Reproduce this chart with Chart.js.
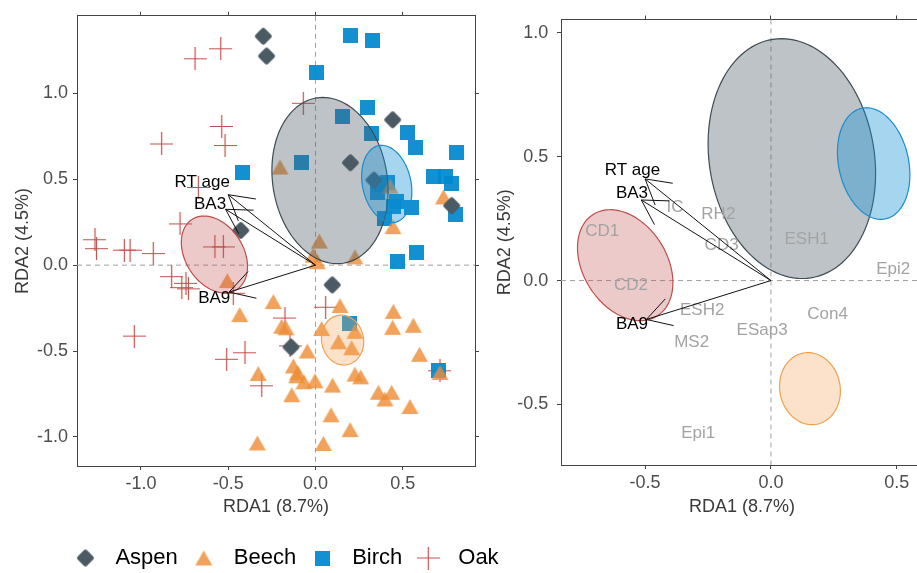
<!DOCTYPE html>
<html><head><meta charset="utf-8">
<script src="https://cdn.jsdelivr.net/npm/chart.js@4"></script>
<style>
html,body{margin:0;padding:0;overflow:hidden;background:#fff;width:917px;height:573px;}
#wrap{position:relative;width:917px;height:573px;overflow:hidden;background:#fff;}
canvas{position:absolute;top:0;}
#left{left:0;width:565px;height:579px;}
#right{left:482px;width:456px;height:579px;}
</style></head><body>
<div id="wrap"><canvas id="right" width="456" height="579"></canvas><canvas id="left" width="565" height="579"></canvas></div>
<script>
// ---------- data ----------
const groups = ['Aspen','Beech','Birch','Oak'];

const aspenX = [-0.299,-0.28,0.442,0.2,0.335,0.78,-0.428,0.096,-0.14];
const aspenY = [1.332,1.217,0.846,0.596,0.495,0.346,0.202,-0.115,-0.477];

const beechX = [-0.203,0.733,0.444,0.427,0.022,-0.013,0.226,0.01,-0.505,-0.242,-0.434,0.14,0.446,-0.194,-0.169,0.035,0.226,0.442,0.56,0.131,0.207,-0.047,0.595,-0.127,-0.102,-0.328,0.226,0.259,-0.108,-0.066,-0.003,0.098,0.36,0.436,0.398,-0.136,0.541,0.089,0.198,-0.333,0.045,0.713];
const beechY = [0.571,0.397,0.224,0.46,0.14,0.058,0.048,0.02,-0.09,-0.212,-0.288,-0.235,-0.269,-0.356,-0.365,-0.369,-0.385,-0.362,-0.35,-0.446,-0.481,-0.5,-0.519,-0.587,-0.625,-0.631,-0.634,-0.65,-0.644,-0.679,-0.673,-0.698,-0.74,-0.74,-0.779,-0.754,-0.823,-0.871,-0.957,-1.035,-1.038,-0.625];

const birchX = [0.198,0.325,0.003,0.298,0.154,0.322,0.527,0.57,0.807,-0.083,-0.419,0.673,0.742,0.777,0.41,0.367,0.355,0.465,0.448,0.552,0.799,0.398,0.576,0.472,0.194,0.703];
const birchY = [1.336,1.307,1.119,0.915,0.867,0.764,0.769,0.685,0.658,0.596,0.538,0.514,0.514,0.473,0.48,0.472,0.421,0.369,0.344,0.336,0.292,0.269,0.075,0.022,-0.342,-0.611];

const oakX = [-0.543,-0.69,-0.07,-0.537,-0.881,-0.518,-0.671,-0.776,-1.263,-1.254,-1.095,-1.062,-0.929,-0.576,-0.528,-0.824,-0.742,-0.766,-0.728,-0.471,0.058,-0.175,-1.038,-0.404,-0.509,-0.146,-0.308,0.713];
const oakY = [1.259,1.201,0.942,0.807,0.705,0.696,0.452,0.24,0.148,0.096,0.087,0.087,0.067,0.106,0.106,-0.067,-0.106,-0.131,-0.138,-0.164,-0.245,-0.308,-0.413,-0.51,-0.548,-0.47,-0.702,-0.615];

// ellipses (Aspen, Beech, Birch, Oak): centre, semi-axes, major-axis angle (deg)
const ellCX = [0.083,0.155,0.408,-0.579];
const ellCY = [0.492,-0.436,0.472,0.062];
const ellA = [0.487,0.146,0.228,0.241];
const ellB = [0.328,0.120,0.139,0.167];
const ellAngle = [98.9,100,101.8,121];

// environmental arrows
const envNames = ['RT age','BA3','BA9'];
const envTipX = [-0.50,-0.515,-0.495];
const envTipY = [0.41,0.325,-0.157];
const envLabelXLeft = [-0.649,-0.604,-0.58];
const envLabelYLeft = [0.48,0.352,-0.193];
const envLabelXRight = [-0.55,-0.552,-0.552];
const envLabelYRight = [0.444,0.352,-0.175];

// trait labels (right panel)
const traitNames = ['IC','RH2','CD1','CD3','ESH1','Epi2','CD2','ESH2','Con4','ESap3','MS2','Epi1'];
const traitX = [-0.381,-0.209,-0.67,-0.196,0.142,0.486,-0.556,-0.273,0.225,-0.035,-0.315,-0.289];
const traitY = [0.296,0.269,0.199,0.141,0.167,0.044,-0.02,-0.122,-0.138,-0.199,-0.248,-0.618];

// ticks
const ticksLeftX = [-1.0,-0.5,0.0,0.5];
const ticksLeftY = [-1.0,-0.5,0.0,0.5,1.0];
const ticksRightX = [-0.5,0.0,0.5];
const ticksRightY = [-0.5,0.0,0.5,1.0];

const xTitle = 'RDA1 (8.7%)';
const yTitle = 'RDA2 (4.5%)';

// ---------- styles ----------
const FONT = "'Liberation Sans', Arial, sans-serif";
Chart.defaults.font.family = FONT;
const ellFill = ['rgba(75,91,100,0.37)','rgba(245,158,80,0.30)','rgba(20,145,215,0.38)','rgba(192,80,77,0.30)'];
const ellStroke = ['#3e4c54','#f0a050','#1a8ccf','#bd4e4b'];

function marker(kind){
  const c = document.createElement('canvas');
  const g = c.getContext('2d');
  if(kind==='diamond'){
    c.width=19;c.height=19;
    g.fillStyle='#4b5a63';g.strokeStyle='#4b5a63';g.lineWidth=4.5;g.lineJoin='round';
    g.beginPath();g.moveTo(9.5,3.3);g.lineTo(15.7,9.5);g.lineTo(9.5,15.7);g.lineTo(3.3,9.5);g.closePath();
    g.fill();g.stroke();
  } else if(kind==='triangle'){
    c.width=19;c.height=17;
    g.fillStyle='rgba(238,142,56,0.82)';
    g.beginPath();g.moveTo(9.5,1);g.lineTo(18,16);g.lineTo(1,16);g.closePath();g.fill();
  } else if(kind==='square'){
    c.width=15;c.height=15;
    g.fillStyle='rgba(0,136,206,0.93)';g.fillRect(0,0,15,15);
  } else {
    c.width=23;c.height=23;
    g.strokeStyle='#c0504d';g.lineWidth=1.2;
    g.beginPath();g.moveTo(0,11.5);g.lineTo(23,11.5);g.moveTo(11.5,0);g.lineTo(11.5,23);g.stroke();
  }
  return c;
}
const markers = [marker('diamond'),marker('triangle'),marker('square'),marker('cross')];

function pts(xs,ys){return xs.map((v,i)=>({x:v,y:ys[i]}));}

// ---------- overlay plugin ----------
const overlay = {
  id:'overlay',
  beforeDatasetsDraw(chart){
    const {ctx, chartArea:a, scales:{x,y}} = chart;
    ctx.save();
    ctx.strokeStyle='#a0a0a0';ctx.lineWidth=1;ctx.setLineDash([5,4]);
    const x0=x.getPixelForValue(0), y0=y.getPixelForValue(0);
    ctx.beginPath();ctx.moveTo(x0,a.top);ctx.lineTo(x0,a.bottom);
    ctx.moveTo(a.left,y0);ctx.lineTo(a.right,y0);ctx.stroke();
    ctx.restore();
  },
  afterDatasetsDraw(chart,args,opts){
    const {ctx, chartArea:a, scales:{x,y}} = chart;
    ctx.save();
    ctx.beginPath();ctx.rect(a.left,a.top,a.right-a.left,a.bottom-a.top);ctx.clip();
    // ellipses
    for(let k=0;k<ellCX.length;k++){
      const phi=ellAngle[k]*Math.PI/180;
      ctx.beginPath();
      for(let i=0;i<=120;i++){
        const t=i/120*2*Math.PI;
        const dx=ellA[k]*Math.cos(t)*Math.cos(phi)-ellB[k]*Math.sin(t)*Math.sin(phi);
        const dy=ellA[k]*Math.cos(t)*Math.sin(phi)+ellB[k]*Math.sin(t)*Math.cos(phi);
        const px=x.getPixelForValue(ellCX[k]+dx), py=y.getPixelForValue(ellCY[k]+dy);
        if(i===0)ctx.moveTo(px,py);else ctx.lineTo(px,py);
      }
      ctx.closePath();
      ctx.fillStyle=ellFill[k];ctx.fill();
      ctx.strokeStyle=ellStroke[k];ctx.lineWidth=1.2;ctx.stroke();
    }
    // trait labels
    ctx.font='17px '+FONT;ctx.textAlign='center';ctx.textBaseline='middle';
    ctx.fillStyle='#a3a3a3';
    (opts.traits||[]).forEach((n,i)=>{
      ctx.fillText(n,x.getPixelForValue(traitX[i]),y.getPixelForValue(traitY[i]));
    });
    // arrows
    const ox=x.getPixelForValue(0), oy=y.getPixelForValue(0);
    ctx.strokeStyle='#111';ctx.lineWidth=1;
    for(let k=0;k<envTipX.length;k++){
      const tx=x.getPixelForValue(envTipX[k]), ty=y.getPixelForValue(envTipY[k]);
      const ang=Math.atan2(oy-ty,ox-tx), L=28, h=Math.PI/6;
      ctx.beginPath();ctx.moveTo(ox,oy);ctx.lineTo(tx,ty);
      ctx.moveTo(tx+L*Math.cos(ang+h),ty+L*Math.sin(ang+h));ctx.lineTo(tx,ty);
      ctx.lineTo(tx+L*Math.cos(ang-h),ty+L*Math.sin(ang-h));
      ctx.stroke();
    }
    // env labels
    ctx.fillStyle='#000';
    envNames.forEach((n,i)=>{
      ctx.fillText(n,x.getPixelForValue(opts.labX[i]),y.getPixelForValue(opts.labY[i]));
    });
    ctx.restore();
  }
};

function axes(cfg){
  const tickFont={size:18};
  const border={display:true,color:'#444',width:1};
  const grid={display:true,drawOnChartArea:false,drawTicks:true,tickLength:4,tickColor:'#444',color:'#444'};
  const setTicks=arr=>(s=>{s.ticks=arr.map(v=>({value:v}));});
  return {
    x:{type:'linear',position:'bottom',min:cfg.xmin,max:cfg.xmax,bounds:'data',
       afterBuildTicks:setTicks(cfg.xt),afterFit:s=>{s.height=cfg.xh;},
       ticks:{font:tickFont,color:'#4d4d4d',padding:3,callback:v=>v.toFixed(1),maxRotation:0,autoSkip:false},
       grid,border,
       title:{display:true,text:xTitle,color:'#3a3a3a',font:{size:18},padding:{top:0,bottom:cfg.xtp}}},
    x2:{type:'linear',position:'top',min:cfg.xmin,max:cfg.xmax,bounds:'data',
       afterBuildTicks:setTicks(cfg.xt),afterFit:s=>{s.height=cfg.top;},
       ticks:{display:false},grid,border},
    y:{type:'linear',position:'left',min:cfg.ymin,max:cfg.ymax,bounds:'data',
       afterBuildTicks:setTicks(cfg.yt),afterFit:s=>{s.width=cfg.yw;},
       ticks:{font:tickFont,color:'#4d4d4d',padding:cfg.ypad,callback:v=>v.toFixed(1),autoSkip:false},
       grid,border,
       title:{display:true,text:yTitle,color:'#3a3a3a',font:{size:18},padding:{top:12.2,bottom:0}}},
    y2:{type:'linear',position:'right',min:cfg.ymin,max:cfg.ymax,bounds:'data',
       afterBuildTicks:setTicks(cfg.yt),afterFit:s=>{s.width=cfg.rw;},
       ticks:{display:false},grid,border}
  };
}

const groupX=[aspenX,beechX,birchX,oakX], groupY=[aspenY,beechY,birchY,oakY];

new Chart(document.getElementById('left'),{
  type:'scatter',
  data:{datasets:groups.map((g,i)=>({
    label:g,data:pts(groupX[i],groupY[i]),pointStyle:markers[i],pointRadius:8,
    backgroundColor:'rgba(0,0,0,0)',borderColor:'rgba(0,0,0,0)'}))},
  options:{
    responsive:false,animation:false,events:[],devicePixelRatio:window.devicePixelRatio||1,
    layout:{padding:0},
    scales:axes({xmin:-1.366,xmax:0.9135,ymin:-1.169,ymax:1.451,xt:ticksLeftX,yt:ticksLeftY,
                 xh:74,xtp:22.5,top:11.7,yw:77,rw:90,ypad:5}),
    plugins:{
      legend:{display:true,position:'bottom',align:'center',fullSize:true,
        labels:{usePointStyle:true,pointStyleWidth:38,padding:7,color:'#000',font:{size:22}}},
      tooltip:{enabled:false},
      overlay:{traits:[],labX:envLabelXLeft,labY:envLabelYLeft}
    }
  },
  plugins:[overlay]
});

new Chart(document.getElementById('right'),{
  type:'scatter',
  data:{datasets:[]},
  options:{
    responsive:false,animation:false,events:[],devicePixelRatio:window.devicePixelRatio||1,
    layout:{padding:0},
    scales:axes({xmin:-0.834,xmax:0.604,ymin:-0.744,ymax:1.053,xt:ticksRightX,yt:ticksRightY,
                 xh:114,xtp:61.5,top:12.7,yw:79,rw:15,ypad:8.7}),
    plugins:{legend:{display:false},tooltip:{enabled:false},
      overlay:{traits:traitNames,labX:envLabelXRight,labY:envLabelYRight}}
  },
  plugins:[overlay]
});
</script>
</body></html>
